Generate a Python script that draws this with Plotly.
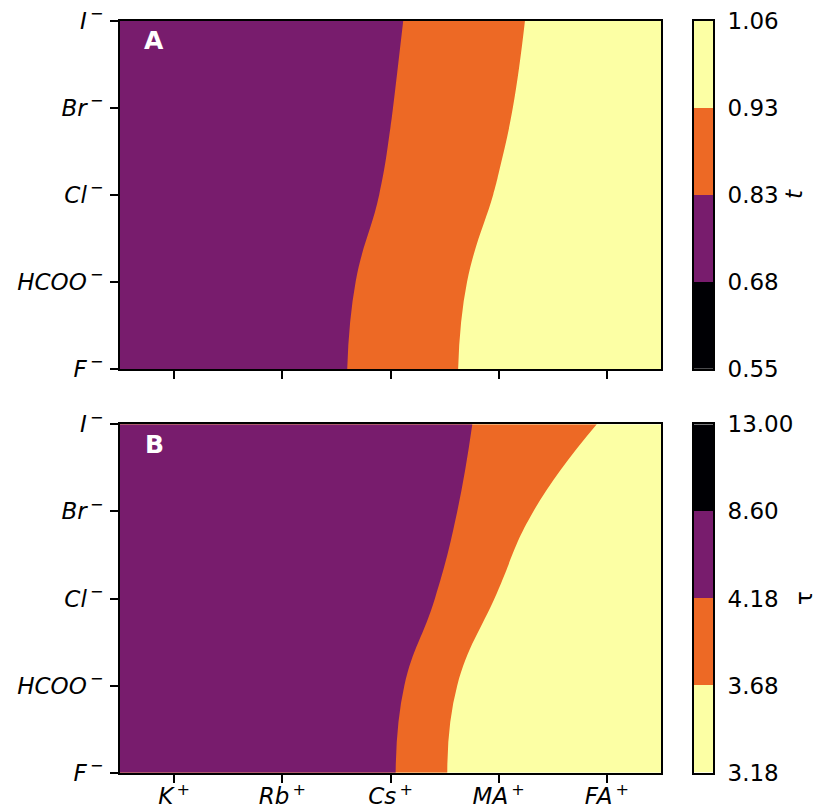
import numpy as np
import plotly.graph_objects as go

# ---------------- data ----------------
cations = ["K", "Rb", "Cs", "MA", "FA"]
anions = ["F", "HCOO", "Cl", "Br", "I"]

# Goldschmidt tolerance factor t  (rows: anions F..I, columns: cations K..FA)
t_F = [0.745, 0.770, 0.870, 0.966, 1.060]
t_HCOO = [0.745, 0.767, 0.860, 0.959, 1.050]
t_Cl = [0.750, 0.770, 0.837, 0.935, 1.040]
t_Br = [0.755, 0.775, 0.828, 0.915, 1.030]
t_I = [0.750, 0.770, 0.820, 0.905, 1.008]

# new tolerance factor tau (rows: anions F..I, columns: cations K..FA)
tau_F = [6.20, 5.10, 4.230, 3.182, 3.18]
tau_HCOO = [6.30, 5.20, 4.311, 3.288, 3.19]
tau_Cl = [6.60, 5.40, 4.550, 3.649, 3.20]
tau_Br = [6.80, 5.55, 4.621, 3.906, 3.20]
tau_I = [7.10, 5.80, 4.738, 4.000, 3.647]

t_levels = [0.55, 0.68, 0.83, 0.93, 1.06]
tau_levels = [3.18, 3.68, 4.18, 8.60, 13.00]

inferno4 = ["#000004", "#781c6d", "#ed6925", "#fcffa4"]
t_band_colors = inferno4                 # bottom -> top of colorbar
tau_band_colors = inferno4[::-1]         # bottom -> top of colorbar

# ---------------- helpers ----------------
W, H = 818, 812
FONT = "DejaVu Sans"
FS = 23
LW = 1.8

t_grid = np.array([t_F, t_HCOO, t_Cl, t_Br, t_I])
tau_grid = np.array([tau_F, tau_HCOO, tau_Cl, tau_Br, tau_I])

xi = np.arange(len(cations), dtype=float)
yi = np.arange(len(anions), dtype=float)
# pad with edge columns so the filled field spans the whole category axis
x_pad = np.concatenate([[xi[0] - 0.5], xi, [xi[-1] + 0.5]])


def pad(z):
    return np.hstack([z[:, :1], z, z[:, -1:]])


def lab_cat(s):
    return f"<i>{s}</i><sup>\u2009+</sup>"


def lab_an(s):
    return f"<i>{s}</i><sup>\u2009\u2212</sup>"


fig = go.Figure()

# Panel A: t (visible boundaries at 0.83 and 0.93)
fig.add_trace(go.Contour(
    x=x_pad, y=yi, z=pad(t_grid),
    autocontour=False,
    contours=dict(start=t_levels[2], end=t_levels[3] + 1e-4, size=t_levels[3] - t_levels[2],
                  coloring="fill", showlines=False),
    colorscale=[[0, t_band_colors[1]], [0.5, t_band_colors[2]], [1, t_band_colors[3]]],
    line=dict(width=0, smoothing=1.3),
    showscale=False, hoverinfo="skip",
    xaxis="x", yaxis="y",
))

# Panel B: tau (visible boundaries at 3.68 and 4.18)
fig.add_trace(go.Contour(
    x=x_pad, y=yi, z=pad(tau_grid),
    autocontour=False,
    contours=dict(start=tau_levels[1], end=tau_levels[2] + 1e-4, size=tau_levels[2] - tau_levels[1],
                  coloring="fill", showlines=False),
    colorscale=[[0, tau_band_colors[0]], [0.5, tau_band_colors[1]], [1, tau_band_colors[2]]],
    line=dict(width=0, smoothing=1.3),
    showscale=False, hoverinfo="skip",
    xaxis="x2", yaxis="y2",
))

# colorbars drawn as one-column heatmaps of band index
nb = len(inferno4)
band_idx = [[i] for i in range(nb)]


def disc_scale(colors):
    n = len(colors)
    return [[i / (n - 1), c] for i, c in enumerate(colors)]


fig.add_trace(go.Heatmap(
    z=band_idx, x=[0], y=list(range(nb)), zmin=0, zmax=nb - 1,
    colorscale=disc_scale(t_band_colors), showscale=False, hoverinfo="skip",
    xaxis="x3", yaxis="y3",
))
fig.add_trace(go.Heatmap(
    z=band_idx, x=[0], y=list(range(nb)), zmin=0, zmax=nb - 1,
    colorscale=disc_scale(tau_band_colors), showscale=False, hoverinfo="skip",
    xaxis="x4", yaxis="y4",
))

# ---------------- layout ----------------
xdom = [120 / W, 661 / W]
ydomA = [1 - 369 / H, 1 - 20.7 / H]
ydomB = [1 - 772.7 / H, 1 - 424.3 / H]
xcb = [694 / W, 713 / W]

tickfont = dict(family=FONT, size=FS, color="black")
common_x = dict(range=[-0.5, len(cations) - 0.5], tickmode="array", tickvals=list(xi),
                ticktext=[lab_cat(c) for c in cations], ticks="outside", ticklen=8,
                tickwidth=LW, tickcolor="black", showline=True, linewidth=LW,
                linecolor="black", mirror=True, showgrid=False, zeroline=False,
                tickfont=tickfont, fixedrange=True, automargin=False)
common_y = dict(range=[0, len(anions) - 1], tickmode="array", tickvals=list(yi),
                ticktext=[lab_an(a) for a in anions], ticks="outside", ticklen=8,
                tickwidth=LW, tickcolor="black", showline=True, linewidth=LW,
                linecolor="black", mirror=True, showgrid=False, zeroline=False,
                tickfont=tickfont, fixedrange=True, automargin=False,
                ticklabelstandoff=2)
cb_x = dict(range=[-0.5, 0.5], showticklabels=False, ticks="", showline=True,
            linewidth=LW, linecolor="black", mirror=True, showgrid=False, zeroline=False,
            automargin=False, fixedrange=True)
cb_y = dict(range=[-0.5, nb - 0.5], side="right", tickmode="array",
            tickvals=[i - 0.5 for i in range(nb + 1)], ticks="", showline=True,
            linewidth=LW, linecolor="black", mirror=True, showgrid=False, zeroline=False,
            tickfont=tickfont, ticklabelstandoff=8, automargin=False, fixedrange=True)

fig.update_layout(
    width=W, height=H, margin=dict(l=0, r=0, t=0, b=0, autoexpand=False),
    paper_bgcolor="white", plot_bgcolor="white",
    showlegend=False,
    xaxis=dict(common_x, domain=xdom, anchor="y", showticklabels=False),
    yaxis=dict(common_y, domain=ydomA, anchor="x"),
    xaxis2=dict(common_x, domain=xdom, anchor="y2", ticklabelstandoff=-6),
    yaxis2=dict(common_y, domain=ydomB, anchor="x2"),
    xaxis3=dict(cb_x, domain=xcb, anchor="y3"),
    yaxis3=dict(cb_y, domain=ydomA, anchor="x3",
                ticktext=[f"{v:.2f}" for v in t_levels]),
    xaxis4=dict(cb_x, domain=xcb, anchor="y4"),
    yaxis4=dict(cb_y, domain=ydomB, anchor="x4",
                ticktext=[f"{v:.2f}" for v in tau_levels]),
    annotations=[
        dict(text="<b>A</b>", xref="x domain", yref="y domain", x=0.063, y=0.942,
             xanchor="center", yanchor="middle", showarrow=False,
             font=dict(family=FONT, size=25, color="white")),
        dict(text="<b>B</b>", xref="x2 domain", yref="y2 domain", x=0.063, y=0.942,
             xanchor="center", yanchor="middle", showarrow=False,
             font=dict(family=FONT, size=25, color="white")),
        dict(text="<i>t</i>", xref="paper", yref="paper", x=794 / W, y=1 - 194 / H,
             xanchor="center", yanchor="middle", showarrow=False, textangle=-90,
             font=dict(family=FONT, size=FS, color="black")),
        dict(text="\u03c4", xref="paper", yref="paper", x=804 / W, y=1 - 598 / H,
             xanchor="center", yanchor="middle", showarrow=False, textangle=-90,
             font=dict(family=FONT, size=FS, color="black")),
    ],
)

fig.write_html("out.html")
